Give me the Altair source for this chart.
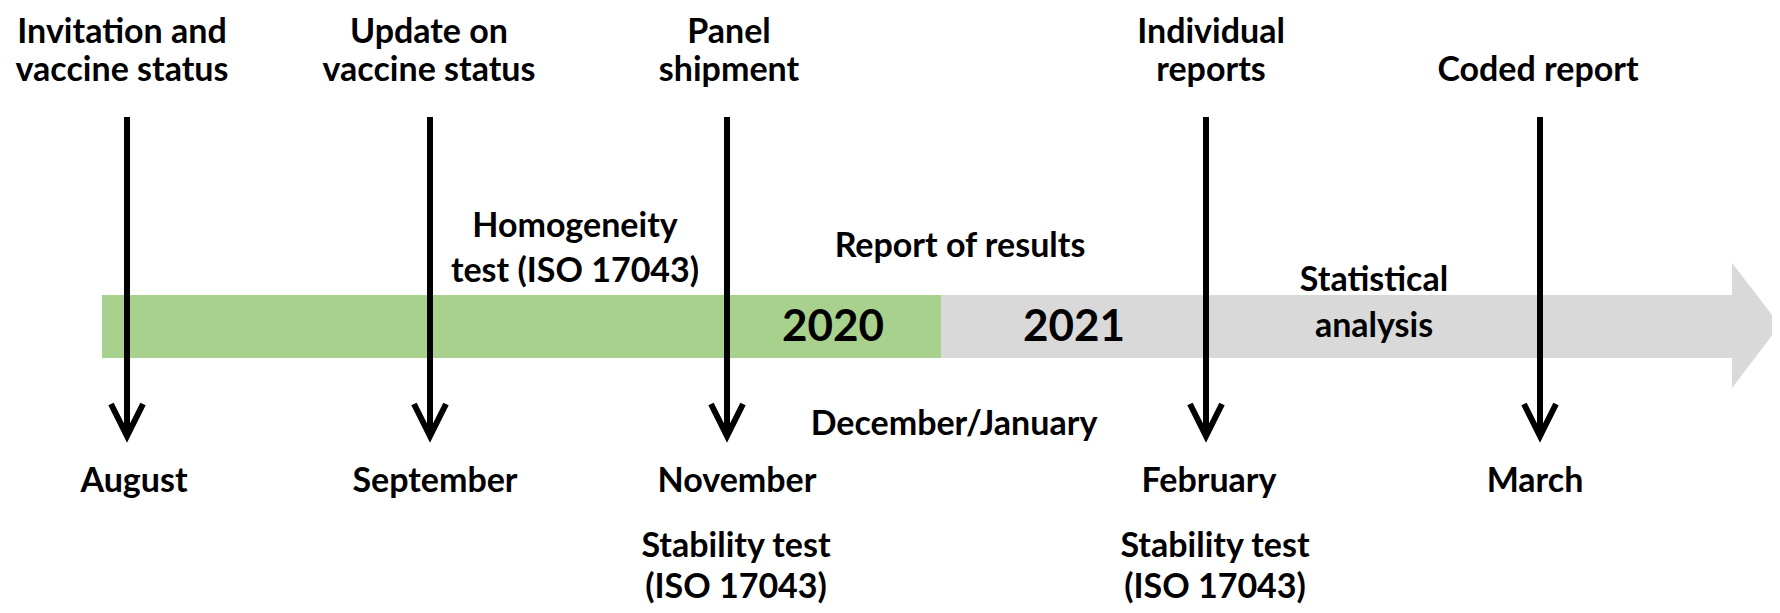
import altair as alt
import pandas as pd

# ---- timeline content (positions in page pixels, x from left, y from top) ----
period_names = ["2020", "2021"]
period_start = [102, 941]
period_end = [941, 1732]
period_colors = ["#A9D18E", "#D9D9D9"]
bar_top = 295
bar_bottom = 358

head_x = [1732, 1780]
head_top = [263, 325]
head_bottom = [388, 325]

event_x = [127, 430, 727, 1206, 1540]
arrow_top = 117
arrow_tip = 436

label_text = [
    "Invitation and", "vaccine status",
    "Update on", "vaccine status",
    "Panel", "shipment",
    "Individual", "reports",
    "Coded report",
    "Homogeneity", "test (ISO 17043)",
    "Report of results",
    "Statistical", "analysis",
    "December/January",
    "August", "September", "November", "February", "March",
    "Stability test", "(ISO 17043)",
    "Stability test", "(ISO 17043)",
]
label_x = [122, 122, 429, 429, 729, 729, 1211, 1211, 1538,
           575, 575, 960, 1374, 1374, 954,
           134, 435, 737, 1209, 1535,
           736, 736, 1215, 1215]
label_y = [33, 71, 33, 71, 33, 71, 33, 71, 71,
           227, 272, 247, 281, 327, 425,
           482, 482, 482, 482, 482,
           547, 588, 547, 588]

year_text = ["2020", "2021"]
year_x = [833, 1074]
year_y = [328, 328]

FONT = "Lato"
W, H = 1764, 597
xs = alt.Scale(domain=[8, 8 + W], range=[0, W])
ys = alt.Scale(domain=[8, 8 + H], range=[0, H])

bars = pd.DataFrame({"name": period_names, "x": period_start, "x2": period_end,
                     "y": [bar_top] * 2, "y2": [bar_bottom] * 2})
rect = alt.Chart(bars).mark_rect().encode(
    x=alt.X("x:Q", scale=xs, axis=None),
    x2="x2:Q",
    y=alt.Y("y:Q", scale=ys, axis=None),
    y2="y2:Q",
    color=alt.Color("name:N", scale=alt.Scale(domain=period_names, range=period_colors), legend=None),
)

head = pd.DataFrame({"x": head_x, "y": head_top, "y2": head_bottom})
head_mark = alt.Chart(head).mark_area(color="#D9D9D9", orient="vertical").encode(
    x=alt.X("x:Q", scale=xs, axis=None),
    y=alt.Y("y:Q", scale=ys, axis=None),
    y2="y2:Q",
)

shafts = pd.DataFrame({"x": event_x, "y": [arrow_top] * len(event_x), "y2": [arrow_tip - 6] * len(event_x)})
shaft = alt.Chart(shafts).mark_rule(color="black", strokeWidth=6).encode(
    x=alt.X("x:Q", scale=xs, axis=None),
    y=alt.Y("y:Q", scale=ys, axis=None),
    y2="y2:Q",
)

rows = []
for i, ex in enumerate(event_x):
    rows.append({"id": i, "o": 0, "x": ex - 16, "y": arrow_tip - 32})
    rows.append({"id": i, "o": 1, "x": ex, "y": arrow_tip})
    rows.append({"id": i, "o": 2, "x": ex + 16, "y": arrow_tip - 32})
heads = alt.Chart(pd.DataFrame(rows)).mark_line(
    color="black", strokeWidth=6, strokeJoin="miter", strokeCap="butt"
).encode(
    x=alt.X("x:Q", scale=xs, axis=None),
    y=alt.Y("y:Q", scale=ys, axis=None),
    detail="id:N",
    order="o:Q",
)

labels = pd.DataFrame({"t": label_text, "x": label_x, "y": label_y})
text = alt.Chart(labels).mark_text(
    font=FONT, fontWeight="bold", fontSize=34, color="black", align="center", baseline="middle"
).encode(
    x=alt.X("x:Q", scale=xs, axis=None),
    y=alt.Y("y:Q", scale=ys, axis=None),
    text="t:N",
)

years = pd.DataFrame({"t": year_text, "x": year_x, "y": year_y})
ytext = alt.Chart(years).mark_text(
    font=FONT, fontWeight="bold", fontSize=44, color="black", align="center", baseline="middle"
).encode(
    x=alt.X("x:Q", scale=xs, axis=None),
    y=alt.Y("y:Q", scale=ys, axis=None),
    text="t:N",
)

chart = alt.layer(rect, head_mark, ytext, text, shaft, heads).properties(
    width=W, height=H, padding=0,
    autosize=alt.AutoSizeParams(type="none"),
).configure_view(stroke=None)

chart.save("out.html", embed_options={"renderer": "svg", "actions": False})
